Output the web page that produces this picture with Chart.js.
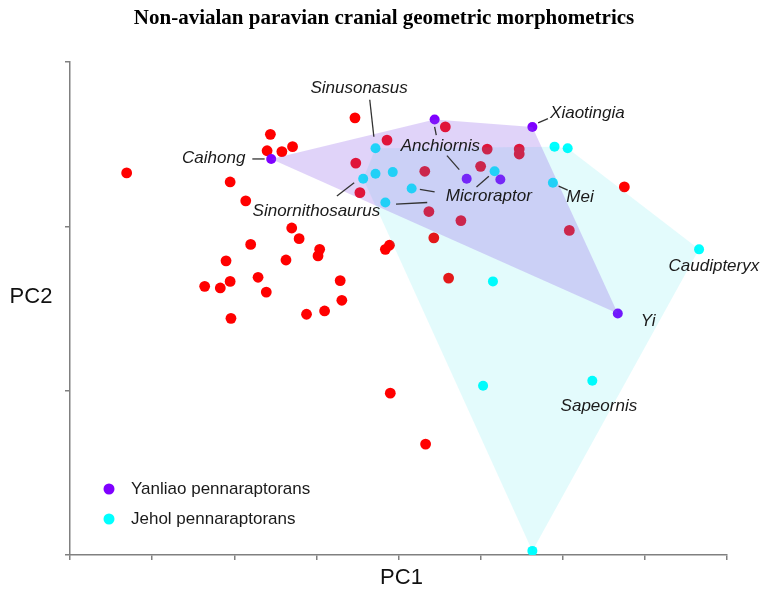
<!DOCTYPE html>
<html>
<head>
<meta charset="utf-8">
<script src="https://cdn.jsdelivr.net/npm/chart.js@4.4.1/dist/chart.umd.min.js"></script>
<style>
html, body { margin: 0; padding: 0; background: #fff; }
#wrap { width: 762px; height: 597px; }
</style>
</head>
<body>
<div id="wrap"><canvas id="myChart"></canvas></div>
<script>
// other non-avialan paravians (red)
var otherX = [-0.331, -0.156, -0.160, -0.142, -0.129, -0.205, -0.186, -0.053, -0.014, -0.052,
              -0.047, -0.130, -0.121, -0.180, -0.210, -0.137, -0.096, -0.098, -0.016, -0.011,
              -0.236, -0.217, -0.205, -0.171, -0.161, -0.071, -0.069, -0.204, -0.112, -0.090,
              -0.010, 0.033, 0.057, 0.032, 0.037, 0.076, 0.043, 0.061, 0.108, 0.100,
              0.147, 0.147, 0.275, 0.208];
var otherY = [0.165, 0.212, 0.192, 0.191, 0.197, 0.154, 0.131, 0.232, 0.205, 0.177,
              0.141, 0.098, 0.085, 0.078, 0.058, 0.059, 0.072, 0.064, 0.072, 0.077,
              0.027, 0.025, 0.033, 0.038, 0.020, 0.034, 0.010, -0.012, -0.007, -0.003,
              -0.103, -0.165, 0.221, 0.167, 0.118, 0.107, 0.086, 0.037, 0.194, 0.173,
              0.194, 0.188, 0.148, 0.095];

// Yanliao pennaraptorans (purple)
var yanliaoX = [-0.155, 0.044, 0.163, 0.083, 0.124, 0.267];
var yanliaoY = [0.182, 0.230, 0.221, 0.158, 0.157, -0.006];

// Jehol pennaraptorans (cyan)
var jeholX = [-0.028, -0.043, -0.028, -0.007, 0.016, -0.016, 0.117, 0.190, 0.206, 0.188,
              0.366, 0.115, 0.103, 0.236, 0.163];
var jeholY = [0.195, 0.158, 0.164, 0.166, 0.146, 0.129, 0.167, 0.197, 0.195, 0.153,
              0.072, 0.033, -0.094, -0.088, -0.295];

// taxon labels: text centre and leader lines, in data units
var taxonLabels = [
  { text: 'Sinusonasus', x: -0.048, y: 0.268, lines: [[-0.035, 0.254, -0.030, 0.209]] },
  { text: 'Caihong', x: -0.225, y: 0.183, lines: [[-0.178, 0.182, -0.163, 0.182]] },
  { text: 'Sinornithosaurus', x: -0.100, y: 0.118, lines: [[-0.075, 0.137, -0.054, 0.153]] },
  { text: 'Anchiornis', x: 0.051, y: 0.198, lines: [[0.044, 0.221, 0.046, 0.211], [0.059, 0.186, 0.074, 0.169]] },
  { text: 'Microraptor', x: 0.110, y: 0.136, lines: [[0.095, 0.148, 0.110, 0.161], [0.026, 0.145, 0.044, 0.142], [-0.003, 0.127, 0.035, 0.129]] },
  { text: 'Xiaotingia', x: 0.230, y: 0.238, lines: [[0.170, 0.226, 0.182, 0.231]] },
  { text: 'Mei', x: 0.221, y: 0.135, lines: [[0.195, 0.149, 0.206, 0.144]] },
  { text: 'Yi', x: 0.304, y: -0.016, lines: [] },
  { text: 'Caudipteryx', x: 0.384, y: 0.051, lines: [] },
  { text: 'Sapeornis', x: 0.244, y: -0.119, lines: [] }
];

var legendNames = ['Yanliao pennaraptorans', 'Jehol pennaraptorans'];
var legendColors = ['#7f00ff', '#00ffff'];

var titleText = 'Non-avialan paravian cranial geometric morphometrics';

function toPts(xs, ys) {
  return xs.map(function (x, i) { return { x: x, y: ys[i] }; });
}

// convex hull (monotone chain), returned closed
function hull(pts) {
  var p = pts.slice().sort(function (a, b) { return a.x - b.x || a.y - b.y; });
  function cross(o, a, b) { return (a.x - o.x) * (b.y - o.y) - (a.y - o.y) * (b.x - o.x); }
  var lower = [], upper = [];
  p.forEach(function (q) {
    while (lower.length >= 2 && cross(lower[lower.length - 2], lower[lower.length - 1], q) <= 0) lower.pop();
    lower.push(q);
  });
  for (var i = p.length - 1; i >= 0; i--) {
    var q = p[i];
    while (upper.length >= 2 && cross(upper[upper.length - 2], upper[upper.length - 1], q) <= 0) upper.pop();
    upper.push(q);
  }
  upper.pop(); lower.pop();
  var h = lower.concat(upper);
  h.push(h[0]);
  return h;
}

var otherPts = toPts(otherX, otherY);
var yanliaoPts = toPts(yanliaoX, yanliaoY);
var jeholPts = toPts(jeholX, jeholY);

var sans = '"Liberation Sans", Arial, sans-serif';

var annotate = {
  id: 'annotate',
  afterDraw: function (chart) {
    var c = chart.ctx, xs = chart.scales.x, ys = chart.scales.y, a = chart.chartArea;
    c.save();
    // title
    c.fillStyle = '#000';
    c.font = 'bold 21px "Liberation Serif", "Times New Roman", serif';
    c.textAlign = 'center';
    c.textBaseline = 'alphabetic';
    c.fillText(titleText, 384, 24);
    // leader lines
    c.strokeStyle = '#333';
    c.lineWidth = 1.3;
    taxonLabels.forEach(function (l) {
      l.lines.forEach(function (s) {
        c.beginPath();
        c.moveTo(xs.getPixelForValue(s[0]), ys.getPixelForValue(s[1]));
        c.lineTo(xs.getPixelForValue(s[2]), ys.getPixelForValue(s[3]));
        c.stroke();
      });
    });
    // taxon names
    c.fillStyle = '#1a1a1a';
    c.font = 'italic 17px ' + sans;
    c.textBaseline = 'middle';
    taxonLabels.forEach(function (l) {
      c.fillText(l.text, xs.getPixelForValue(l.x), ys.getPixelForValue(l.y));
    });
    // axis titles
    c.fillStyle = '#111';
    c.font = '22px ' + sans;
    c.fillText('PC1', (a.left + a.right) / 2 + 3, a.bottom + 23);
    c.fillText('PC2', a.left - 39, (a.top + a.bottom) / 2 - 12);
    // legend
    c.font = '17px ' + sans;
    c.textAlign = 'left';
    legendNames.forEach(function (n, i) {
      var y = a.bottom - 66 + i * 30;
      c.fillStyle = legendColors[i];
      c.beginPath();
      c.arc(a.left + 39, y, 5.5, 0, Math.PI * 2);
      c.fill();
      c.fillStyle = '#1a1a1a';
      c.fillText(n, a.left + 61, y);
    });
    c.restore();
  }
};

var ctx = document.getElementById('myChart').getContext('2d');

var chart = new Chart(ctx, {
  type: 'scatter',
  data: {
    datasets: [{
      label: 'Yanliao hull',
      data: hull(yanliaoPts),
      showLine: true,
      fill: 'shape',
      backgroundColor: 'rgba(130, 80, 230, 0.25)',
      borderColor: 'rgba(0,0,0,0)',
      borderWidth: 0,
      pointRadius: 0,
      order: 0
    }, {
      label: 'Jehol hull',
      data: hull(jeholPts),
      showLine: true,
      fill: 'shape',
      backgroundColor: 'rgba(0, 215, 225, 0.11)',
      borderColor: 'rgba(0,0,0,0)',
      borderWidth: 0,
      pointRadius: 0,
      order: 0
    }, {
      label: 'Other paravians',
      data: otherPts,
      backgroundColor: '#ff0000',
      borderWidth: 0,
      pointRadius: 5.4,
      order: 3
    }, {
      label: legendNames[1],
      data: jeholPts,
      backgroundColor: legendColors[1],
      borderWidth: 0,
      pointRadius: 5,
      order: 2
    }, {
      label: legendNames[0],
      data: yanliaoPts,
      backgroundColor: legendColors[0],
      borderWidth: 0,
      pointRadius: 5,
      order: 1
    }]
  },
  options: {
    responsive: true,
    maintainAspectRatio: false,
    animation: false,
    layout: { padding: { top: 62, right: 35 } },
    plugins: {
      legend: { display: false },
      tooltip: { enabled: false },
      title: { display: false }
    },
    scales: {
      x: {
        type: 'linear',
        min: -0.4,
        max: 0.4,
        ticks: { stepSize: 0.1, display: false },
        grid: { drawOnChartArea: false, drawTicks: true, tickLength: 5, color: '#808080', lineWidth: 1.5 },
        border: { color: '#808080', width: 1.5 },
        afterFit: function (s) { s.height = 42; }
      },
      y: {
        type: 'linear',
        min: -0.3,
        max: 0.3,
        ticks: { stepSize: 0.2, display: false },
        grid: { drawOnChartArea: false, drawTicks: true, tickLength: 5, color: '#808080', lineWidth: 1.5 },
        border: { color: '#808080', width: 1.5 },
        afterFit: function (s) { s.width = 70; }
      }
    }
  },
  plugins: [annotate]
});
</script>
</body>
</html>
